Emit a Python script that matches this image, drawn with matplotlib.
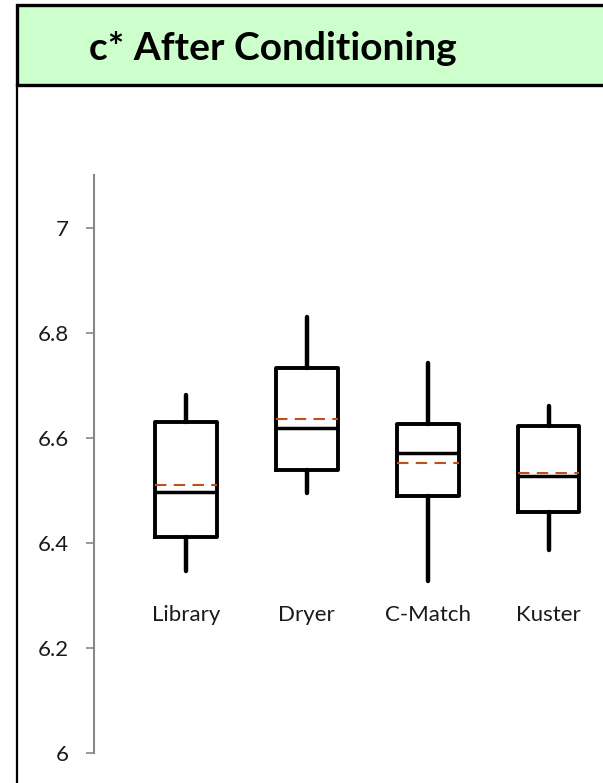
import matplotlib
matplotlib.use("Agg")
import matplotlib.pyplot as plt
from matplotlib.patches import Rectangle
from matplotlib.lines import Line2D

# datos
categorias = ["Library", "Dryer", "C-Match", "Kuster"]
minimos = [6.347, 6.495, 6.328, 6.387]
q1 = [6.411, 6.539, 6.490, 6.459]
medianas = [6.497, 6.619, 6.571, 6.528]
medias = [6.510, 6.636, 6.552, 6.533]
q3 = [6.630, 6.733, 6.627, 6.623]
maximos = [6.682, 6.830, 6.743, 6.661]
ticks_y = [6, 6.2, 6.4, 6.6, 6.8, 7]
etiquetas_y = ["6", "6.2", "6.4", "6.6", "6.8", "7"]
y_etiquetas = 6.263

W, H = 603, 783
fig = plt.figure(figsize=(W / 100, H / 100), dpi=100)

# marco y caja del titulo
fig.patches.append(Rectangle((17 / W, 1 - 85 / H), 1.0, 80 / H, transform=fig.transFigure,
                             facecolor="#ccffcc", edgecolor="black", linewidth=2.4, zorder=0))
fig.lines.append(Line2D([17 / W, 17 / W], [0, 1 - 85 / H], transform=fig.transFigure,
                        color="black", linewidth=1.6))
fig.text(273 / W, 1 - 49 / H, "c* After Conditioning", ha="center", va="center",
         fontsize=28, fontweight="bold", family="Lato")

ax = fig.add_axes([94 / W, 30 / H, (W - 94) / W, 578 / H])

stats = []
for i, c in enumerate(categorias):
    stats.append({"label": c, "whislo": minimos[i], "q1": q1[i], "med": medianas[i],
                  "mean": medias[i], "q3": q3[i], "whishi": maximos[i], "fliers": []})

ax.bxp(stats, positions=range(len(categorias)), widths=0.51, showmeans=True, meanline=True,
       showcaps=False, showfliers=False,
       boxprops=dict(color="black", linewidth=2.8),
       whiskerprops=dict(color="black", linewidth=3.2, solid_capstyle="round"),
       medianprops=dict(color="black", linewidth=2.5),
       meanprops=dict(color="#c0501a", linewidth=1.5, linestyle=(0, (5.5, 3.5))))

ax.set_xlim(-0.76, 3.45)
ax.set_ylim(6, 7.1)
ax.set_yticks(ticks_y)
ax.set_yticklabels(etiquetas_y)
ax.tick_params(axis="y", direction="out", length=6, width=1.2, color="#888888",
               labelsize=16, labelcolor="#1a1a1a", pad=12)
for lab in ax.get_yticklabels():
    lab.set_family("Lato")
ax.set_xticks([])
for s in ["top", "right", "bottom"]:
    ax.spines[s].set_visible(False)
ax.spines["left"].set_color("#888888")
ax.spines["left"].set_linewidth(1.5)

# etiquetas de categoria dentro del area
for i, c in enumerate(categorias):
    ax.text(i, y_etiquetas, c, ha="center", va="center", fontsize=16, family="Lato",
            color="#1a1a1a")

fig.savefig("out.png", dpi=100)
